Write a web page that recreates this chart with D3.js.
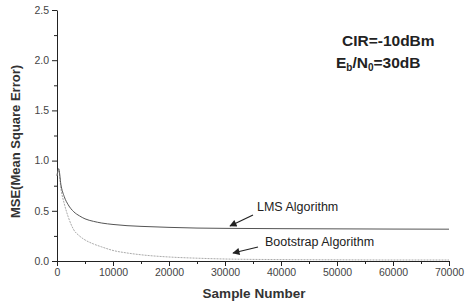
<!DOCTYPE html>
<html>
<head>
<meta charset="utf-8">
<script src="https://cdn.jsdelivr.net/npm/d3@7"></script>
<style>
	body { margin: 0; background: #fff; }
	svg { font-family: "Liberation Sans", Arial, sans-serif; }
	.axis text { font-size: 10.5px; fill: #444; }
	.axis path, .axis line { stroke: #222; }
</style>
</head>
<body>
<div id="chart"></div>
<script>
// sample points
const samples = [0, 300, 700, 1300, 2000, 3000, 4000, 5000, 6500, 8000, 10000, 12500, 15000, 20000, 25000, 30000, 40000, 50000, 60000, 70000];
const lmsMse = [0.85, 0.92, 0.76, 0.64, 0.56, 0.49, 0.45, 0.42, 0.395, 0.378, 0.364, 0.352, 0.345, 0.335, 0.328, 0.325, 0.322, 0.32, 0.318, 0.317];
const bootMse = [0.85, 0.9, 0.72, 0.57, 0.44, 0.31, 0.25, 0.21, 0.17, 0.14, 0.105, 0.08, 0.062, 0.04, 0.028, 0.02, 0.014, 0.012, 0.01, 0.01];
const xTicks = [0, 10000, 20000, 30000, 40000, 50000, 60000, 70000];
const yTicks = [0.0, 0.5, 1.0, 1.5, 2.0, 2.5];

const W = 475, H = 306;
const margin = { top: 10, right: 26, bottom: 45, left: 57 };
const width = W - margin.left - margin.right;
const height = H - margin.top - margin.bottom;

const svg = d3.select("#chart").append("svg")
	.attr("width", W)
	.attr("height", H);
const g = svg.append("g")
	.attr("transform", `translate(${margin.left},${margin.top})`);

const x = d3.scaleLinear().domain([0, 70000]).range([0, width]);
const y = d3.scaleLinear().domain([0, 2.5]).range([height, 0]);

// minor ticks first
g.append("g")
	.attr("class", "axis")
	.attr("transform", `translate(0,${height})`)
	.call(d3.axisBottom(x).tickValues(d3.range(5000, 70000, 10000)).tickSize(3).tickFormat(""))
	.call(s => s.select(".domain").remove());
g.append("g")
	.attr("class", "axis")
	.call(d3.axisLeft(y).tickValues([0.25, 0.75, 1.25, 1.75, 2.25]).tickSize(3).tickFormat(""))
	.call(s => s.select(".domain").remove());

g.append("g")
	.attr("class", "axis")
	.attr("transform", `translate(0,${height})`)
	.call(d3.axisBottom(x).tickValues(xTicks).tickSize(5).tickSizeOuter(0).tickPadding(3).tickFormat(d3.format("d")));
g.append("g")
	.attr("class", "axis")
	.call(d3.axisLeft(y).tickValues(yTicks).tickSize(5).tickSizeOuter(0).tickPadding(3).tickFormat(d3.format(".1f")));

const line = d3.line()
	.x(d => x(d[0]))
	.y(d => y(d[1]))
	.curve(d3.curveMonotoneX);

g.append("path")
	.datum(samples.map((s, i) => [s, bootMse[i]]))
	.attr("fill", "none")
	.attr("stroke", "#aaa")
	.attr("stroke-width", 1)
	.attr("stroke-dasharray", "2,1")
	.attr("d", line);

g.append("path")
	.datum(samples.map((s, i) => [s, lmsMse[i]]))
	.attr("fill", "none")
	.attr("stroke", "#555")
	.attr("stroke-width", 1)
	.attr("d", line);

// axis titles
svg.append("text")
	.attr("x", 254)
	.attr("y", 298)
	.attr("text-anchor", "middle")
	.attr("font-size", 13.5)
	.attr("font-weight", "bold")
	.attr("fill", "#333")
	.text("Sample Number");
svg.append("text")
	.attr("transform", `translate(20,${margin.top + height / 2 + 6}) rotate(-90)`)
	.attr("text-anchor", "middle")
	.attr("font-size", 13)
	.attr("font-weight", "bold")
	.attr("fill", "#333")
	.text("MSE(Mean Square Error)");

// condition text
svg.append("text")
	.attr("x", 342).attr("y", 46)
	.attr("font-size", 15.5).attr("font-weight", "bold").attr("fill", "#222")
	.text("CIR=-10dBm");
const eb = svg.append("text")
	.attr("x", 336).attr("y", 68)
	.attr("font-size", 15.5).attr("font-weight", "bold").attr("fill", "#222");
eb.append("tspan").text("E");
eb.append("tspan").attr("font-size", 10).attr("dy", 3).text("b");
eb.append("tspan").attr("dy", -3).text("/N");
eb.append("tspan").attr("font-size", 10).attr("dy", 3).text("0");
eb.append("tspan").attr("dy", -3).text("=30dB");

// annotations with arrows
svg.append("defs").append("marker")
	.attr("id", "arr")
	.attr("viewBox", "0 0 10 10")
	.attr("refX", 9).attr("refY", 5)
	.attr("markerWidth", 8).attr("markerHeight", 6)
	.attr("orient", "auto")
	.append("path").attr("d", "M0,0L10,5L0,10z").attr("fill", "#222");

const notes = [
	{ text: "LMS Algorithm", tx: 257, ty: 211, x1: 253, y1: 215, x2: 230, y2: 226 },
	{ text: "Bootstrap Algorithm", tx: 265, ty: 246, x1: 258, y1: 247, x2: 233, y2: 253 }
];
notes.forEach(n => {
	svg.append("text")
		.attr("x", n.tx).attr("y", n.ty)
		.attr("font-size", 12.5).attr("fill", "#222")
		.text(n.text);
	svg.append("line")
		.attr("x1", n.x1).attr("y1", n.y1)
		.attr("x2", n.x2).attr("y2", n.y2)
		.attr("stroke", "#222").attr("stroke-width", 1.2)
		.attr("marker-end", "url(#arr)");
});
</script>
</body>
</html>
